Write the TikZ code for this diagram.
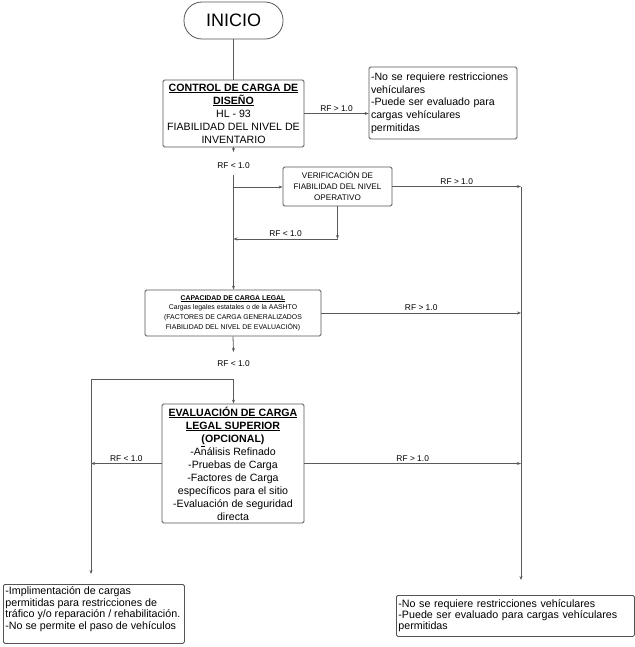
\documentclass[tikz,border=0pt]{standalone}
\usepackage{fontspec}
\setmainfont{Liberation Sans}
\usetikzlibrary{arrows.meta}
\definecolor{boxc}{HTML}{555555}
\definecolor{linec}{HTML}{5A5A5A}
\begin{document}
\begin{tikzpicture}[x=1pt,y=-1pt,
  box/.style={draw=boxc, rounded corners=1.5pt, line width=0.8pt, align=center, inner sep=0pt, font=\fontsize{10.6}{13}\selectfont},
  lbl/.style={font=\fontsize{8.4}{9}\selectfont, inner sep=1pt},
  conn/.style={draw=linec, line width=0.8pt},
  arr/.style={conn, -{Stealth[length=4pt,width=3pt]}}]
\useasboundingbox (0,0) rectangle (634,647);

% nodes
\node[box, rounded corners=18pt, minimum width=99pt, minimum height=37pt, font=\fontsize{18}{20}\selectfont] (ini) at (233.5,20.5) {INICIO};
\node[box, minimum width=141pt, minimum height=67pt] (ctrl) at (233.5,113.5)
  {\underline{\textbf{CONTROL DE CARGA DE}}\\\underline{\textbf{DISEÑO}}\\HL - 93\\FIABILIDAD DEL NIVEL DE\\INVENTARIO};
\node[box, minimum width=148pt, minimum height=72pt, text width=144pt, align=left, font=\fontsize{10.6}{12.7}\selectfont] (r1) at (443,103)
  {-No se requiere restricciones\\vehículares\\-Puede ser evaluado para\\cargas vehículares\\permitidas};
\node[box, minimum width=109pt, minimum height=39pt, font=\fontsize{8.1}{11}\selectfont] (ver) at (337.5,186.5)
  {VERIFICACIÓN DE\\FIABILIDAD DEL NIVEL\\OPERATIVO};
\node[box, minimum width=176pt, minimum height=46pt, font=\fontsize{6.9}{9.7}\selectfont] (cap) at (233,313)
  {\underline{\textbf{CAPACIDAD DE CARGA LEGAL}}\\Cargas legales estatales o de la AASHTO\\(FACTORES DE CARGA GENERALIZADOS\\FIABILIDAD DEL NIVEL DE EVALUACIÓN)};
\node[box, minimum width=142pt, minimum height=119pt] (eva) at (233,463.5)
  {\underline{\textbf{EVALUACIÓN DE CARGA}}\\\underline{\textbf{LEGAL SUPERIOR}}\\\textbf{\underline{(}OPCIONAL)}\\-Análisis Refinado\\-Pruebas de Carga\\-Factores de Carga\\específicos para el sitio\\-Evaluación de seguridad\\directa};
\node[box, anchor=north west, inner sep=2pt, font=\fontsize{10.7}{11.8}\selectfont] (bl) at (3,584)
  {\parbox[t][55pt][t]{177pt}{\raggedright -Implimentación de cargas\\permitidas para restricciones de\\tráfico y/o reparación / rehabilitación.\\-No se permite el paso de vehículos}};
\node[box, anchor=north west, minimum width=238pt, minimum height=41pt, text width=234pt, align=left, font=\fontsize{10.7}{11}\selectfont] (br) at (396,595)
  {-No se requiere restricciones vehículares\\-Puede ser evaluado para cargas vehículares\\permitidas};

% coordinates
\coordinate (c1) at (233.5,152);
\coordinate (c2) at (233.5,175);
\coordinate (c3) at (233.5,187);
\coordinate (c4) at (521,186.5);
\coordinate (c5) at (521,580);
\coordinate (c6) at (337.5,239);
\coordinate (c7) at (233.5,352);
\coordinate (c8) at (233.5,379);
\coordinate (c9) at (91,379);
\coordinate (c10) at (91,574);
\node[lbl] (l1) at (233.5,166) {RF < 1.0};
\node[lbl] (l2) at (233.5,364) {RF < 1.0};

% connectors
\draw[conn] (ini) -- (ctrl);
\draw[arr] (ctrl.east) -- node[lbl, above=1pt]{RF > 1.0} (ctrl.east -| r1.west);
\draw[arr] (ctrl.south) -- (c1);
\draw[arr] (c2) -- (c2 |- cap.north);
\draw[arr] (c3) -- (c3 -| ver.west);
\draw[arr] (ver.east) -- node[lbl, above=1pt]{RF > 1.0} (c4);
\draw[arr] (c4) -- (c5);
\draw[arr] (ver.south) -- (c6);
\draw[arr] (c6) -- node[lbl, above=1pt]{RF < 1.0} (c6 -| c2);
\draw[arr] (cap.east) -- node[lbl, above=1pt]{RF > 1.0} (cap.east -| c4);
\draw[arr] (cap.south) -- (c7);
\draw[arr] (c8) -- (c8 |- eva.north);
\draw[conn] (c8) -- (c9);
\draw[arr] (c9) -- (c10);
\draw[arr] (eva.west) -- node[lbl, above=1pt]{RF < 1.0} (eva.west -| c9);
\draw[arr] (eva.east) -- node[lbl, above=1pt]{RF > 1.0} (eva.east -| c4);
\end{tikzpicture}
\end{document}
